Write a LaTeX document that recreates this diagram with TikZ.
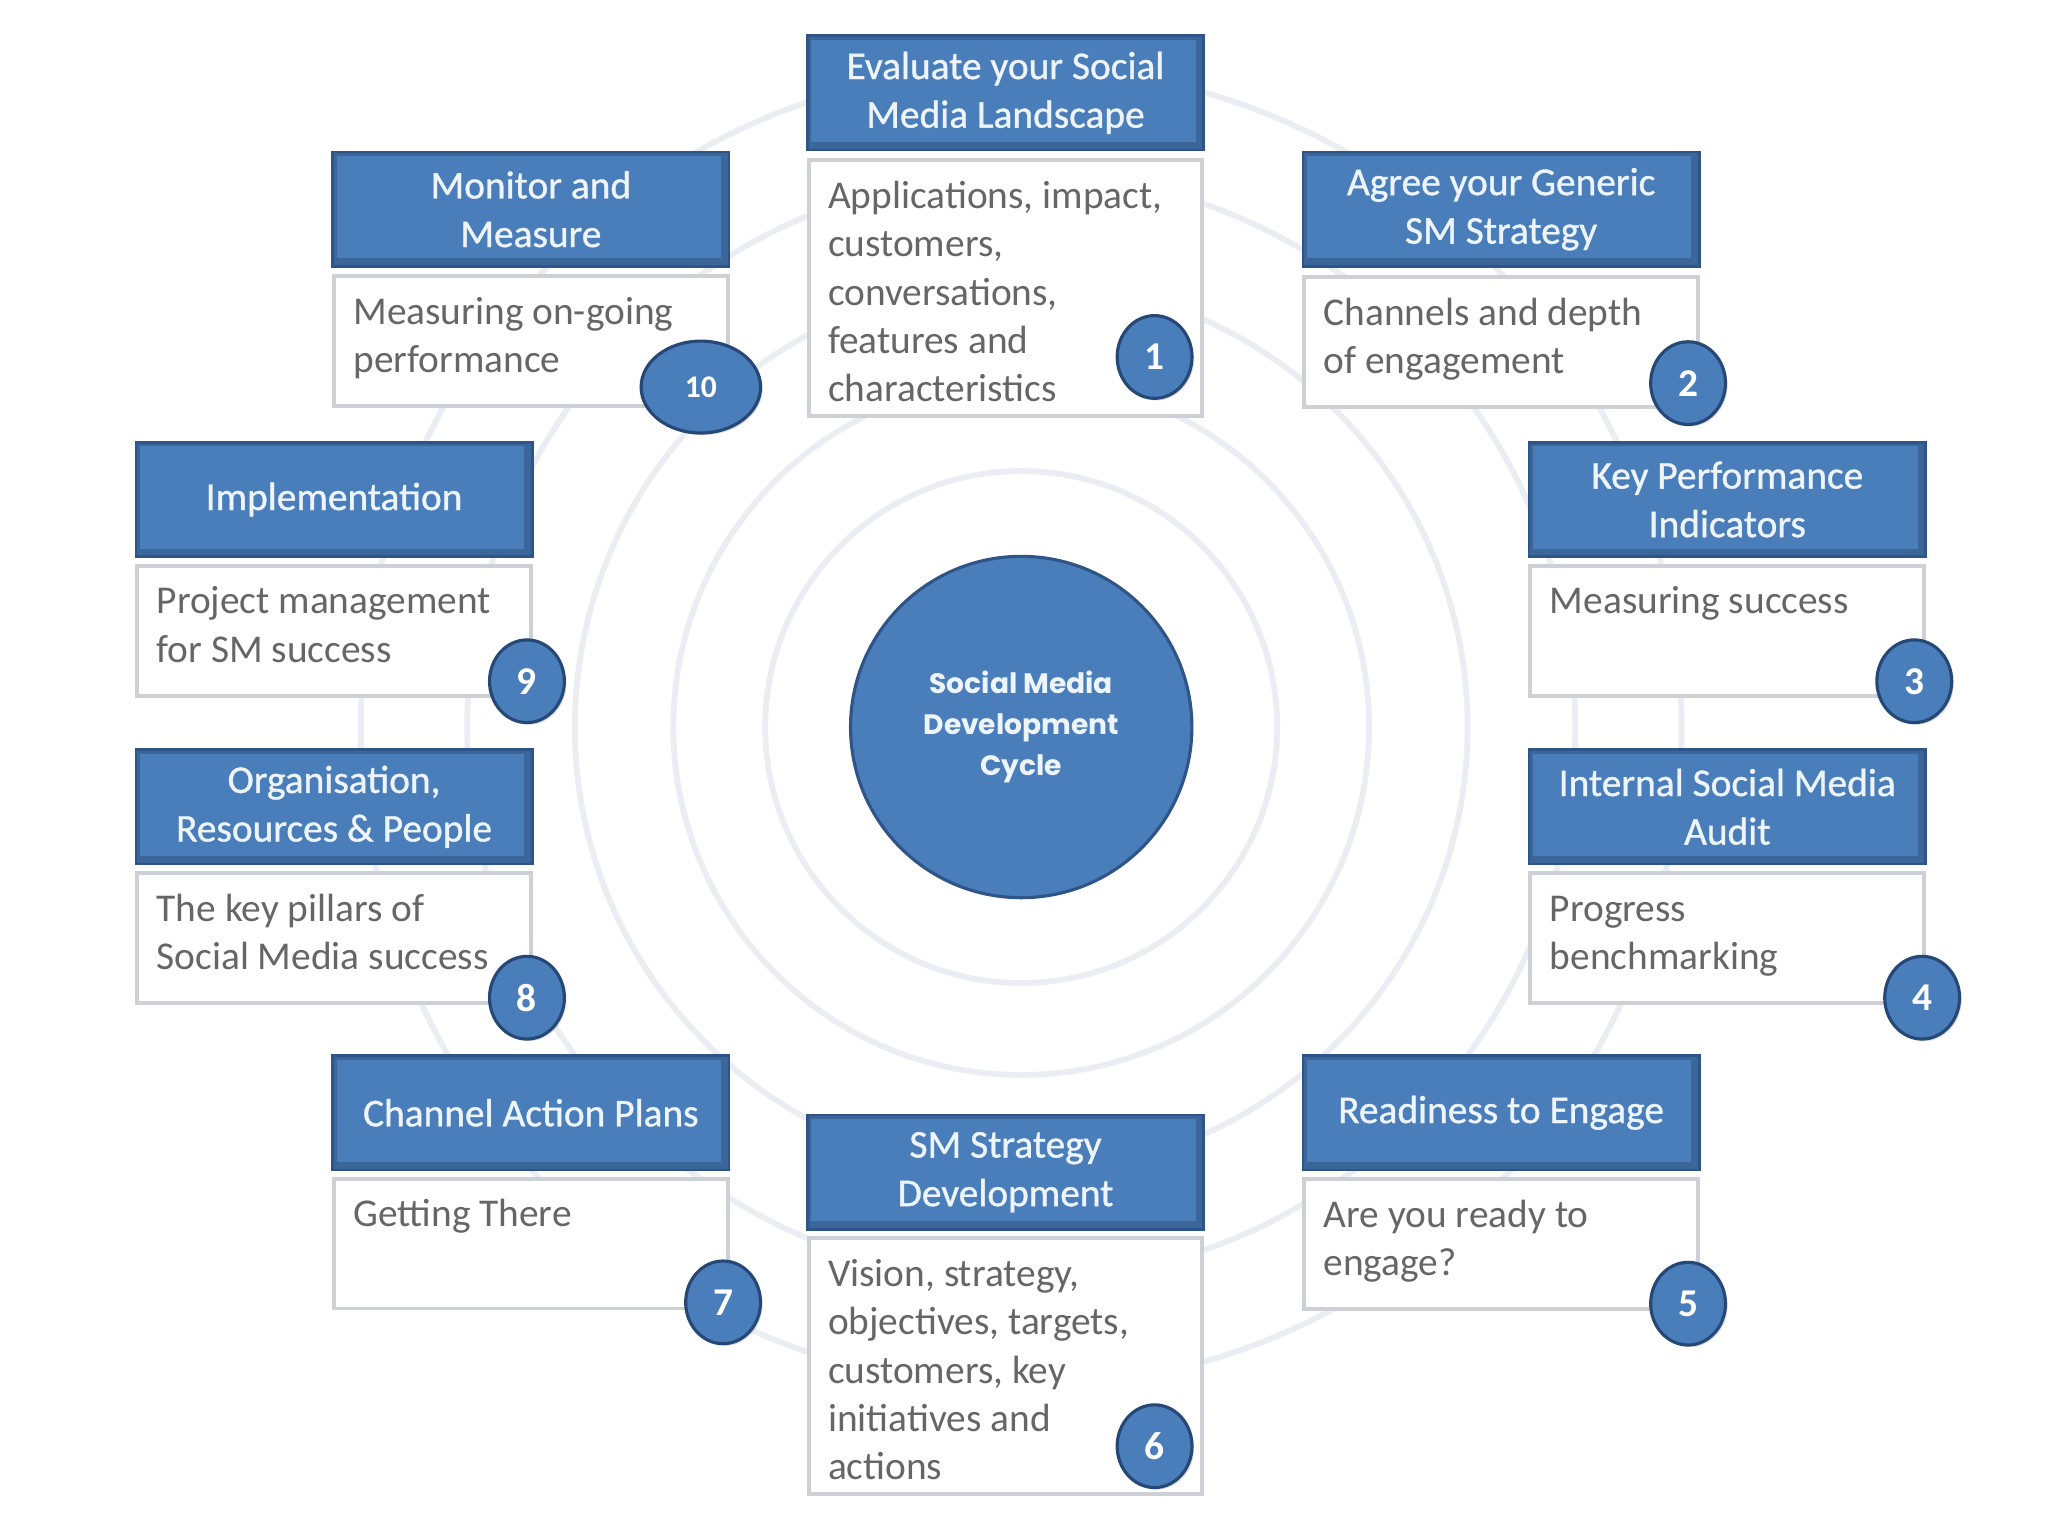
\documentclass[tikz,border=0pt]{standalone}
\usepackage{fontspec}
\setmainfont{Carlito}
\newfontfamily\titlefam{Carlito}[FakeBold=0.9]
\newfontfamily\ctrfam{Poppins}
\usetikzlibrary{shapes.geometric,shadows}
\definecolor{tblue}{HTML}{4A7EBB}
\definecolor{tedge}{HTML}{2F5487}
\definecolor{tdark}{HTML}{3B6699}
\definecolor{ttext}{HTML}{EEF4FB}
\definecolor{dgrey}{HTML}{666666}
\definecolor{dedge}{HTML}{CDD0D4}
\definecolor{ringc}{HTML}{EAEDF2}
\definecolor{bedge}{HTML}{264877}
\newcommand\titlefnt{\titlefam\fontsize{15}{18.5}\selectfont}
\newcommand\descfnt{\fontsize{15}{18.4}\selectfont}
\newcommand\badgefnt{\fontsize{15}{18}\selectfont\bfseries}
\tikzset{
  titlebox/.style={draw=tedge, line width=1pt, fill=tblue, minimum width=151pt,
    minimum height=43.5pt, inner sep=0pt, align=center, text=ttext, font=\titlefnt,
    path picture={
      \draw[tdark, line width=6pt] (path picture bounding box.north east) -- (path picture bounding box.south east) -- (path picture bounding box.south west);
      \draw[tdark, line width=3pt] (path picture bounding box.south west) -- (path picture bounding box.north west) -- (path picture bounding box.north east);}},
  descbox/.style={draw=dedge, line width=1.5pt, fill=white, minimum width=150pt,
    minimum height=49.5pt, inner sep=0pt},
  tallbox/.style={descbox, minimum height=97.5pt},
  desctext/.style={anchor=north west, inner sep=0pt, align=left, text=dgrey, font=\descfnt},
  badge/.style={ellipse, draw=bedge, line width=1.2pt, fill=tblue, minimum width=28.5pt,
    minimum height=31.5pt, inner sep=0pt, text=white, font=\badgefnt,
    drop shadow={opacity=0.25, shadow xshift=0.8pt, shadow yshift=-0.8pt}},
  ringline/.style={draw=ringc, line width=2.2pt},
  hub/.style={circle, draw=tedge, line width=1.2pt, fill=tblue, minimum size=130pt,
    inner sep=0pt, align=center, text=ttext,
    font={\ctrfam\bfseries\fontsize{10.7}{15.5}\selectfont}}
}
\begin{document}
\begin{tikzpicture}[x=0.498pt, y=-0.498pt]
\useasboundingbox[fill=white] (0,0) rectangle (1566.27,1174.70);
\coordinate (O) at (781,556);
\foreach \r in {97.5,132.5,170,211,251.5} \draw[ringline] (O) circle[radius=\r pt];

% 1
\node[titlebox] (T1) at (769,71) {Evaluate your Social\\Media Landscape};
\node[tallbox] (D1) at (769,220.5) {};
\node[desctext] (D1t) at ([shift={(16,12)}]D1.north west) {\strut Applications, impact,\\customers,\\conversations,\\features and\\characteristics};
\node[badge] (B1) at (883,273) {1};
% 2
\node[titlebox] (T2) at (1148,160) {Agree your Generic\\SM Strategy};
\node[descbox] (D2) at (1148,261.5) {};
\node[desctext] (D2t) at ([shift={(16,12)}]D2.north west) {\strut Channels and depth\\of engagement};
\node[badge] (B2) at (1291,293) {2};
% 3
\node[titlebox] (T3) at (1321,382) {Key Performance\\Indicators};
\node[descbox] (D3) at (1321,482.5) {};
\node[desctext] (D3t) at ([shift={(16,12)}]D3.north west) {\strut Measuring success};
\node[badge] (B3) at (1464,521) {3};
% 4
\node[titlebox] (T4) at (1321,617) {Internal Social Media\\Audit};
\node[descbox] (D4) at (1321,717.5) {};
\node[desctext] (D4t) at ([shift={(16,12)}]D4.north west) {\strut Progress\\benchmarking};
\node[badge] (B4) at (1470,763) {4};
% 5
\node[titlebox] (T5) at (1148,851) {Readiness to Engage};
\node[descbox] (D5) at (1148,951.5) {};
\node[desctext] (D5t) at ([shift={(16,12)}]D5.north west) {\strut Are you ready to\\engage?};
\node[badge] (B5) at (1291,997) {5};
% 6
\node[titlebox] (T6) at (769,896.5) {SM Strategy\\Development};
\node[tallbox] (D6) at (769,1045) {};
\node[desctext] (D6t) at ([shift={(16,12)}]D6.north west) {\strut Vision, strategy,\\objectives, targets,\\customers, key\\initiatives and\\actions};
\node[badge] (B6) at (883,1106) {6};
% 7
\node[titlebox] (T7) at (406,851) {Channel Action Plans};
\node[descbox] (D7) at (406,951) {};
\node[desctext] (D7t) at ([shift={(16,12)}]D7.north west) {\strut Getting There};
\node[badge] (B7) at (553,996) {7};
% 8
\node[titlebox] (T8) at (255.5,617) {Organisation,\\Resources \& People};
\node[descbox] (D8) at (255.5,717.5) {};
\node[desctext] (D8t) at ([shift={(16,12)}]D8.north west) {\strut The key pillars of\\Social Media success};
\node[badge] (B8) at (403,763) {8};
% 9
\node[titlebox] (T9) at (255.5,382) {Implementation};
\node[descbox] (D9) at (255.5,482.5) {};
\node[desctext] (D9t) at ([shift={(16,12)}]D9.north west) {\strut Project management\\for SM success};
\node[badge] (B9) at (403,521) {9};
% 10
\node[titlebox] (T10) at (406,160) {Monitor and\\Measure};
\node[descbox] (D10) at (406,261) {};
\node[desctext] (D10t) at ([shift={(16,12)}]D10.north west) {\strut Measuring on-going\\performance};
\node[badge, minimum width=45.5pt, minimum height=35pt, font={\fontsize{12}{14}\selectfont\bfseries}] (B10) at (536,296) {10};

\node[hub] (hub) at (O) {Social Media\\Development\\Cycle};
\end{tikzpicture}
\end{document}
